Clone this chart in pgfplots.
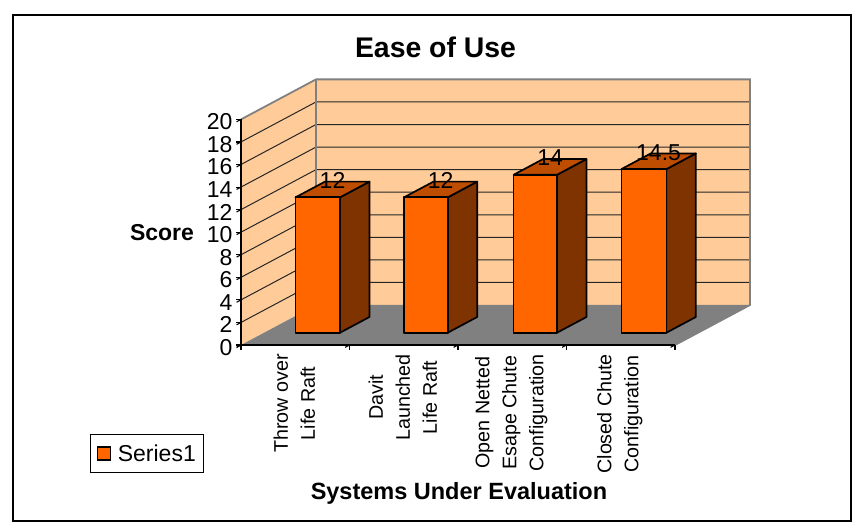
\documentclass[border=0pt]{standalone}
\usepackage{fontspec}
\setmainfont{Liberation Sans}
\usepackage{pgfplots}
\pgfplotsset{compat=1.18}

\definecolor{wall}{HTML}{FFCC99}
\definecolor{floorgrey}{HTML}{808080}
\definecolor{barfront}{HTML}{FF6600}
\definecolor{bartop}{HTML}{BF4D00}
\definecolor{barside}{HTML}{7F3300}

% One bar: #1 left edge, #2 right edge, #3 score
\newcommand{\scorebar}[3]{%
  \addplot3[fill=barside,draw=black,line width=1.7pt,line join=round] coordinates
    {(#2,0.3075,0) (#2,0.70,0) (#2,0.70,#3) (#2,0.3075,#3)} -- cycle;
  \addplot3[fill=bartop,draw=black,line width=1.7pt,line join=round] coordinates
    {(#1,0.3075,#3) (#2,0.3075,#3) (#2,0.70,#3) (#1,0.70,#3)} -- cycle;
  \addplot3[fill=barfront,draw=black,line width=1.7pt,line join=round] coordinates
    {(#1,0.3075,0) (#2,0.3075,0) (#2,0.3075,#3) (#1,0.3075,#3)} -- cycle;
}

\begin{document}
\begin{tikzpicture}[x=1pt,y=1pt]
\path[use as bounding box] (0,0) rectangle (858,529);
\draw[line width=2pt] (13,8) rectangle (851,514);
\begin{axis}[
  at={(241pt,184pt)}, anchor=origin,
  x={(108.5pt,0pt)}, y={(75pt,40pt)}, z={(0pt,11.28pt)},
  xmin=0, xmax=4, ymin=0, ymax=1, zmin=0, zmax=20,
  clip=false,
  axis lines=left,
  axis line style={-,black,line width=1.2pt},
  y axis line style={draw=none},
  axis on top=true,
  tick align=outside,
  major tick length=5pt,
  tick style={black,line width=1.1pt},
  ytick=\empty,
  ztick={0,2,...,20},
  xtick={0,1,2,3,4},
  xticklabels={},
  extra x ticks={0.5,1.5,2.5,3.5},
  extra x tick labels={{Throw over\\Life Raft},{Davit\\Launched\\Life Raft},{Open Netted\\Esape Chute\\Configuration},{Closed Chute\\Configuration}},
  extra x tick style={major tick length=0pt},
  /pgf/number format/assume math mode=true,
  zticklabel style={font=\fontsize{23}{23}\selectfont,anchor=east,inner sep=0pt,xshift=-4pt},
  xticklabel style={font=\fontsize{19.7}{27}\selectfont,rotate=90,anchor=east,align=center,inner sep=0pt,xshift=-9pt,yshift=1pt},
  title={\bfseries Ease of Use},
  title style={at={(axis cs:1.793,0,26.42)},anchor=center,yshift=-6pt,font=\fontsize{28.4}{30}\selectfont},
  xlabel={\bfseries Systems Under Evaluation},
  every axis x label/.style={at={(axis cs:2.009,0,-13.2)},anchor=center,font=\fontsize{23.5}{25}\selectfont},
  zlabel={\bfseries Score},
  every axis z label/.style={at={(axis cs:-0.728,0,9.93)},anchor=center,font=\fontsize{23}{25}\selectfont},
  legend style={at={(axis cs:-1.39,0,-11.35)},anchor=south west,draw=black,line width=0.9pt,
    font=\fontsize{23}{24}\selectfont,inner xsep=6pt,inner ysep=8pt},
  legend cell align=left,
]
\addlegendimage{legend image code/.code={
  \draw[fill=barfront,draw=black,line width=1.5pt] (0pt,-6.5pt) rectangle (13pt,6.5pt);
  \path (18pt,0pt);}}
\addlegendentry{Series1}

% Walls and floor
\addplot3[fill=wall,draw=none] coordinates {(0,1,0) (4,1,0) (4,1,20) (0,1,20)} -- cycle;
\addplot3[fill=wall,draw=none] coordinates {(0,0,0) (0,1,0) (0,1,20) (0,0,20)} -- cycle;
\addplot3[fill=floorgrey,draw=none] coordinates {(0,0,0) (4,0,0) (4,1,0) (0,1,0)} -- cycle;

% Gridlines across the left and back walls
\pgfplotsinvokeforeach{2,4,...,18}{
  \addplot3[black!85,line width=1pt] coordinates {(0,0,#1) (0,1,#1) (4,1,#1)};
}

% Wall outline
\addplot3[floorgrey,line width=1.8pt] coordinates {(0,0,20) (0,1,20) (4,1,20) (4,1,0) (4,0,0)};
\addplot3[floorgrey,line width=2.2pt] coordinates {(0,1,0) (0,1,20)};

\scorebar{0.29}{0.70}{12}
\scorebar{1.29}{1.693}{12}
\scorebar{2.30}{2.70}{14}
\scorebar{3.293}{3.708}{14.5}

\node[font=\fontsize{23}{23}\selectfont,yshift=9pt] at (axis cs:0.495,0.504,12) {12};
\node[font=\fontsize{23}{23}\selectfont,yshift=9pt] at (axis cs:1.491,0.504,12) {12};
\node[font=\fontsize{23}{23}\selectfont,yshift=9pt] at (axis cs:2.50,0.504,14) {14};
\node[font=\fontsize{23}{23}\selectfont,yshift=9pt] at (axis cs:3.50,0.504,14.5) {14.5};
\end{axis}
\end{tikzpicture}
\end{document}
